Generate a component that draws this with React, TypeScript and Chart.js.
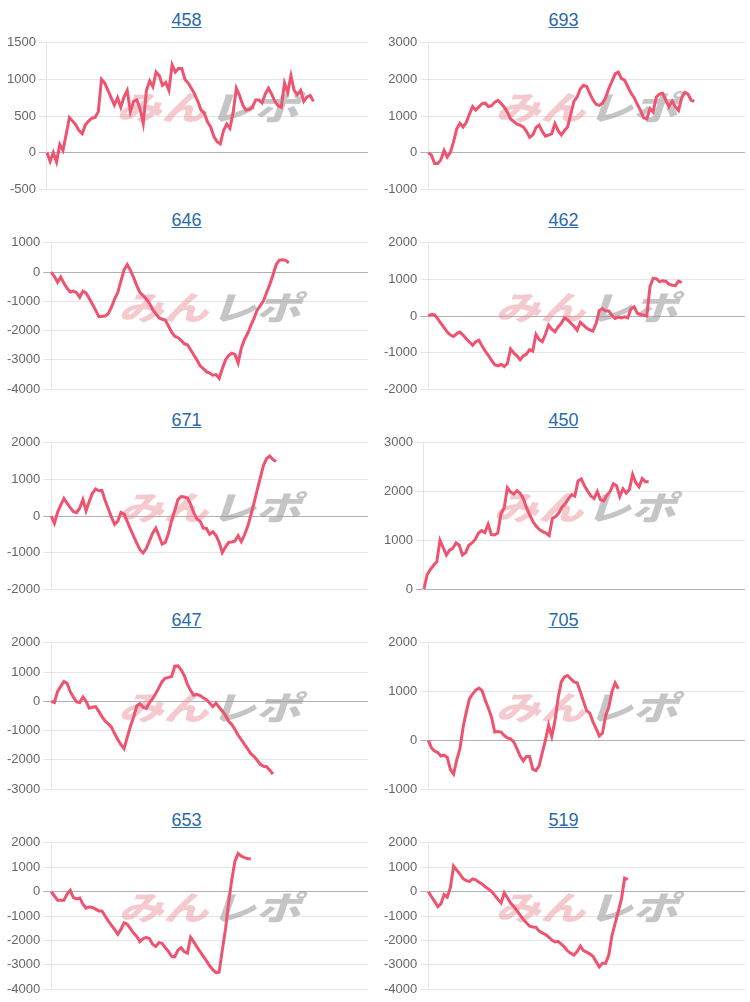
import React, { useEffect, useRef } from "react";
import { Chart, registerables } from "chart.js";

Chart.register(...registerables);

const FONT = 'Arial, "Liberation Sans", sans-serif';

// number of x slots on each chart (data fills only part of it)
const SLOT_COUNT = 101;
const SLOT_LABELS: string[] = Array.from({ length: SLOT_COUNT }, (_, i) => String(i + 1));

const TITLES = ["458", "693", "646", "462", "671", "450", "647", "705", "653", "519"];

const S458 = [0, -120, 0, -130, 110, 30, 250, 480, 430, 380, 300, 260, 380, 430, 470, 480, 560, 1000, 950, 850,
  750, 650, 750, 620, 760, 850, 560, 700, 720, 600, 400, 850, 980, 900, 1100, 1050, 920, 960, 850, 1200,
  1100, 1150, 1150, 1000, 950, 880, 800, 700, 580, 540, 420, 350, 220, 150, 120, 300, 390, 330, 550, 880,
  780, 650, 580, 590, 620, 720, 720, 680, 800, 880, 800, 700, 640, 620, 950, 820, 1050, 850, 790, 850,
  700, 760, 780, 700];

const S693 = [0, -70, -300, -300, -190, 60, -120, 10, 300, 650, 800, 700, 820, 1050, 1260, 1160, 1250, 1340, 1350, 1260,
  1280, 1380, 1430, 1340, 1240, 1100, 920, 850, 780, 750, 700, 580, 420, 480, 680, 750, 580, 450, 480, 520,
  790, 600, 480, 600, 700, 1050, 1400, 1520, 1740, 1840, 1810, 1620, 1440, 1320, 1290, 1350, 1500, 1750, 1950, 2150,
  2200, 2020, 1980, 1800, 1630, 1500, 1320, 1150, 950, 920, 1200, 1110, 1520, 1600, 1620, 1430, 1250, 1400, 1250, 1150,
  1490, 1650, 1600, 1430, 1400];

const S646 = [0, -150, -350, -170, -380, -550, -680, -650, -700, -860, -650, -720, -900, -1100, -1300, -1520, -1520, -1500, -1420, -1200,
  -920, -700, -300, 80, 260, 60, -180, -460, -700, -800, -920, -1070, -1280, -1420, -1560, -1610, -1640, -1840, -2050, -2190,
  -2240, -2330, -2450, -2480, -2650, -2830, -3000, -3200, -3300, -3400, -3450, -3520, -3500, -3630, -3300, -3000, -2850, -2770, -2810, -3100,
  -2600, -2300, -2100, -1830, -1580, -1300, -1150, -980, -700, -420, -100, 250, 410, 420, 400, 320];

const S462 = [0, 45, 30, -80, -200, -320, -440, -520, -560, -480, -440, -520, -620, -710, -800, -700, -660, -820, -960, -1080,
  -1210, -1330, -1360, -1320, -1380, -1300, -900, -1010, -1090, -1200, -1090, -1040, -920, -960, -500, -640, -700, -500, -250, -360,
  -430, -300, -200, -50, -100, -200, -280, -390, -170, -250, -330, -380, -410, -200, 150, 200, 140, 140, 20, -70,
  -30, -50, -20, -50, 200, 250, 80, 45, 20, 0, 800, 1030, 1020, 940, 960, 950, 870, 840, 830, 950,
  910];

const S671 = [0, -200, 100, 300, 480, 350, 230, 120, 90, 220, 450, 140, 400, 620, 740, 690, 700, 430, 200, -30,
  -230, -140, 100, 50, -150, -360, -550, -740, -920, -1010, -890, -680, -470, -330, -540, -770, -720, -480, -130, 150,
  450, 530, 520, 490, 320, 90, -80, -140, -330, -340, -500, -430, -530, -720, -1000, -850, -720, -710, -680, -540,
  -700, -520, -290, 20, 350, 700, 1050, 1380, 1570, 1640, 1540, 1490];

const S450 = [0, 300, 400, 490, 560, 1000, 850, 700, 800, 840, 950, 900, 700, 750, 900, 950, 1020, 1150, 1200, 1160,
  1330, 1120, 1110, 1150, 1550, 1670, 2080, 1990, 1950, 2020, 1960, 1850, 1660, 1520, 1380, 1290, 1220, 1180, 1150, 1100,
  1450, 1490, 1560, 1680, 1750, 1850, 1940, 1910, 2220, 2260, 2120, 2010, 1910, 1860, 2000, 1830, 1810, 1930, 2000, 2160,
  2120, 1900, 2060, 1970, 2040, 2350, 2180, 2100, 2270, 2200, 2200];

const S647 = [0, -40, 340, 510, 680, 620, 330, 140, -20, -40, 150, 0, -230, -200, -180, -340, -520, -670, -770, -880,
  -1100, -1300, -1480, -1620, -1220, -850, -540, -150, -80, -200, -240, -50, 90, 270, 470, 680, 790, 820, 850, 1200,
  1210, 1080, 880, 580, 370, 210, 240, 200, 120, 60, -60, -180, -60, -200, -330, -480, -680, -790, -960, -1160,
  -1310, -1470, -1620, -1790, -1880, -2010, -2150, -2220, -2230, -2350, -2480];

const S705 = [0, -150, -220, -250, -320, -300, -350, -600, -690, -400, -170, 270, 580, 850, 950, 1030, 1070, 1020, 820, 660,
  470, 170, 180, 170, 100, 50, 30, -30, -170, -320, -420, -330, -330, -590, -620, -520, -250, 0, 310, 80,
  400, 870, 1200, 1300, 1330, 1260, 1200, 1180, 1000, 800, 610, 560, 380, 240, 90, 150, 500, 680, 1000, 1180,
  1060];

const S653 = [0, -180, -350, -350, -350, -100, 50, -250, -300, -260, -520, -680, -630, -650, -720, -790, -790, -1000, -1200, -1380,
  -1550, -1750, -1550, -1280, -1340, -1520, -1700, -1840, -2050, -1930, -1880, -1930, -2160, -2250, -2090, -2120, -2300, -2450, -2650, -2670,
  -2400, -2300, -2470, -2520, -1870, -2060, -2270, -2460, -2650, -2840, -3040, -3200, -3320, -3300, -2400, -1550, -450, 500, 1250, 1560,
  1450, 1390, 1360, 1340];

const S519 = [0, -200, -400, -620, -500, -120, -230, 170, 1050, 880, 720, 530, 450, 420, 520, 480, 380, 310, 200, 110,
  0, -150, -320, -470, -50, -250, -470, -610, -780, -960, -1140, -1280, -1420, -1450, -1460, -1620, -1690, -1760, -1860, -1990,
  -2060, -2040, -2150, -2270, -2430, -2530, -2600, -2460, -2230, -2420, -2480, -2550, -2650, -2870, -3090, -2940, -2940, -2600, -1800, -1300,
  -800, -300, 550, 500];

const SERIES = [S458, S693, S646, S462, S671, S450, S647, S705, S653, S519];
const Y_MIN = [-500, -1000, -4000, -2000, -2000, 0, -3000, -1000, -4000, -4000];
const Y_MAX = [1500, 3000, 1000, 2000, 2000, 3000, 2000, 2000, 2000, 2000];
const Y_STEP = [500, 1000, 1000, 1000, 1000, 1000, 1000, 1000, 1000, 1000];

const LINE_COLOR = "#ee5370";

const watermarkPlugin = {
  id: "watermark",
  beforeDatasetsDraw(chart: any) {
    const { ctx, chartArea } = chart;
    const cx = (chartArea.left + chartArea.right) / 2;
    const cy = (chartArea.top + chartArea.bottom) / 2 - 9;
    ctx.save();
    ctx.translate(cx, cy);
    ctx.scale(1.25, 0.92);
    ctx.font = 'italic 900 36px "Noto Sans CJK JP", sans-serif';
    ctx.textBaseline = "middle";
    const a = "みん";
    const b = "レポ";
    const wa = ctx.measureText(a).width;
    const wb = ctx.measureText(b).width;
    const gap = 2;
    const x0 = -(wa + wb + gap) / 2;
    ctx.fillStyle = "rgba(236, 150, 160, 0.5)";
    ctx.fillText(a, x0, 0);
    ctx.fillStyle = "rgba(150, 150, 150, 0.55)";
    ctx.fillText(b, x0 + wa + gap, 0);
    ctx.restore();
  },
};

function MiniChart({ title, data, min, max, step }: { title: string; data: number[]; min: number; max: number; step: number }) {
  const ref = useRef<HTMLCanvasElement | null>(null);
  useEffect(() => {
    if (!ref.current) return;
    const chart = new Chart(ref.current, {
      type: "line",
      data: {
        labels: SLOT_LABELS,
        datasets: [
          {
            data,
            borderColor: LINE_COLOR,
            borderWidth: 3,
            pointRadius: 0,
            tension: 0,
            fill: false,
          },
        ],
      },
      options: {
        animation: false,
        responsive: false,
        maintainAspectRatio: false,
        layout: { padding: { left: 4, right: 5, top: 0, bottom: 2 } },
        plugins: { legend: { display: false }, tooltip: { enabled: false } },
        scales: {
          x: { display: false },
          y: {
            min,
            max,
            ticks: {
              stepSize: step,
              color: "#666",
              font: { family: FONT, size: 13 },
              callback: (v: any) => String(v),
            },
            grid: {
              color: (c: any) => (c.tick && c.tick.value === 0 ? "#b0b0b0" : "#e6e6e6"),
            },
            border: { color: "#e6e6e6" },
          },
        },
      },
      plugins: [watermarkPlugin],
    });
    return () => chart.destroy();
  }, [data, min, max, step]);

  return (
    <div style={{ width: 373, height: 200, position: "relative" }}>
      <div style={{ position: "absolute", top: 5, left: 0, width: 373, height: 30, lineHeight: "30px", textAlign: "center" }}>
        <a href="#" style={{ color: "#2a6aa8", textDecoration: "underline", fontFamily: FONT, fontSize: 18 }}>
          {title}
        </a>
      </div>
      <canvas ref={ref} width={373} height={168} style={{ position: "absolute", top: 32, left: 0, width: 373, height: 168 }} />
    </div>
  );
}

export default function App() {
  return (
    <div style={{ position: "absolute", left: 0, top: 0, width: 750, height: 1002, background: "#fff" }}>
      {TITLES.map((t, i) => (
        <div
          key={t}
          style={{ position: "absolute", left: i % 2 === 0 ? 0 : 377, top: Math.floor(i / 2) * 200 }}
        >
          <MiniChart title={t} data={SERIES[i]} min={Y_MIN[i]} max={Y_MAX[i]} step={Y_STEP[i]} />
        </div>
      ))}
    </div>
  );
}
